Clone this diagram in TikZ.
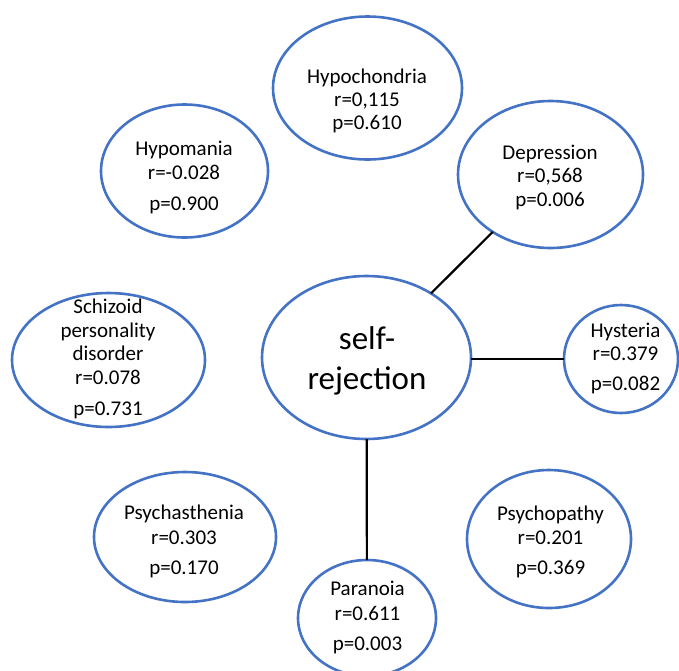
\documentclass[tikz,border=0pt]{standalone}
\usepackage{fontspec}
\setmainfont{Carlito}
\usetikzlibrary{shapes.geometric}
\definecolor{oblue}{HTML}{4472C4}
\begin{document}
\begin{tikzpicture}[x=1pt,y=-1pt,
  bub/.style={draw=oblue,line width=2.6pt,ellipse,inner sep=0pt,outer sep=0pt},
  ln/.style={font=\fontsize{21}{24}\selectfont,anchor=base,inner sep=0pt},
  big/.style={font=\fontsize{33}{40}\selectfont,anchor=base,inner sep=0pt},
  link/.style={draw=black,line width=2.2pt}]
\useasboundingbox (0,0) rectangle (679,670);
% ellipses
\node[bub,minimum width=189pt,minimum height=143pt] (hypoch) at (367.5,88) {};
\node[bub,minimum width=167pt,minimum height=133pt] (hypoma) at (184.5,171) {};
\node[bub,minimum width=185pt,minimum height=147pt] (depr) at (550.5,174.5) {};
\node[bub,minimum width=209pt,minimum height=163pt] (self) at (366.5,357.5) {};
\node[bub,minimum width=193pt,minimum height=134pt] (schiz) at (108.5,360) {};
\node[bub,minimum width=114pt,minimum height=108pt] (hyst) at (621,359) {};
\node[bub,minimum width=182pt,minimum height=130pt] (psyas) at (185,537) {};
\node[bub,minimum width=164pt,minimum height=138pt] (psyop) at (549,539) {};
\node[bub,minimum width=138pt,minimum height=116pt] (para) at (367,618) {};
% texts
\node[ln] (hypoch1) at (367,83) {Hypochondria};
\node[ln] (hypoch2) at (367,106) {r=0,115};
\node[ln] (hypoch3) at (367,129) {p=0.610};
\node[ln] (hypoma1) at (184,155) {Hypomania};
\node[ln] (hypoma2) at (184,179) {r=-0.028};
\node[ln] (hypoma3) at (184,210) {p=0.900};
\node[ln] (depr1) at (550,159) {Depression};
\node[ln] (depr2) at (550,182) {r=0,568};
\node[ln] (depr3) at (550,206) {p=0.006};
\node[big] (self1) at (367,349) {self-};
\node[big] (self2) at (367,389) {rejection};
\node[ln] (schiz1) at (108,313) {Schizoid};
\node[ln] (schiz2) at (108,337) {personality};
\node[ln] (schiz3) at (108,360) {disorder};
\node[ln] (schiz4) at (108,384) {r=0.078};
\node[ln] (schiz5) at (108,415) {p=0.731};
\node[ln] (hyst1) at (625.5,337) {Hysteria};
\node[ln] (hyst2) at (625.5,360) {r=0.379};
\node[ln] (hyst3) at (625.5,390) {p=0.082};
\node[ln] (psyas1) at (184,519) {Psychasthenia};
\node[ln] (psyas2) at (184,544) {r=0.303};
\node[ln] (psyas3) at (184,574) {p=0.170};
\node[ln] (psyop1) at (550.5,520) {Psychopathy};
\node[ln] (psyop2) at (550.5,544) {r=0.201};
\node[ln] (psyop3) at (550.5,574) {p=0.369};
\node[ln] (para1) at (367.5,595) {Paranoia};
\node[ln] (para2) at (367.5,620) {r=0.611};
\node[ln] (para3) at (367.5,650) {p=0.003};
% connectors
\draw[link] (depr) -- (self);
\draw[link] (self.east |- 0,359) -- (hyst.west |- 0,359);
\draw[link] (self) -- (para);
\end{tikzpicture}
\end{document}
